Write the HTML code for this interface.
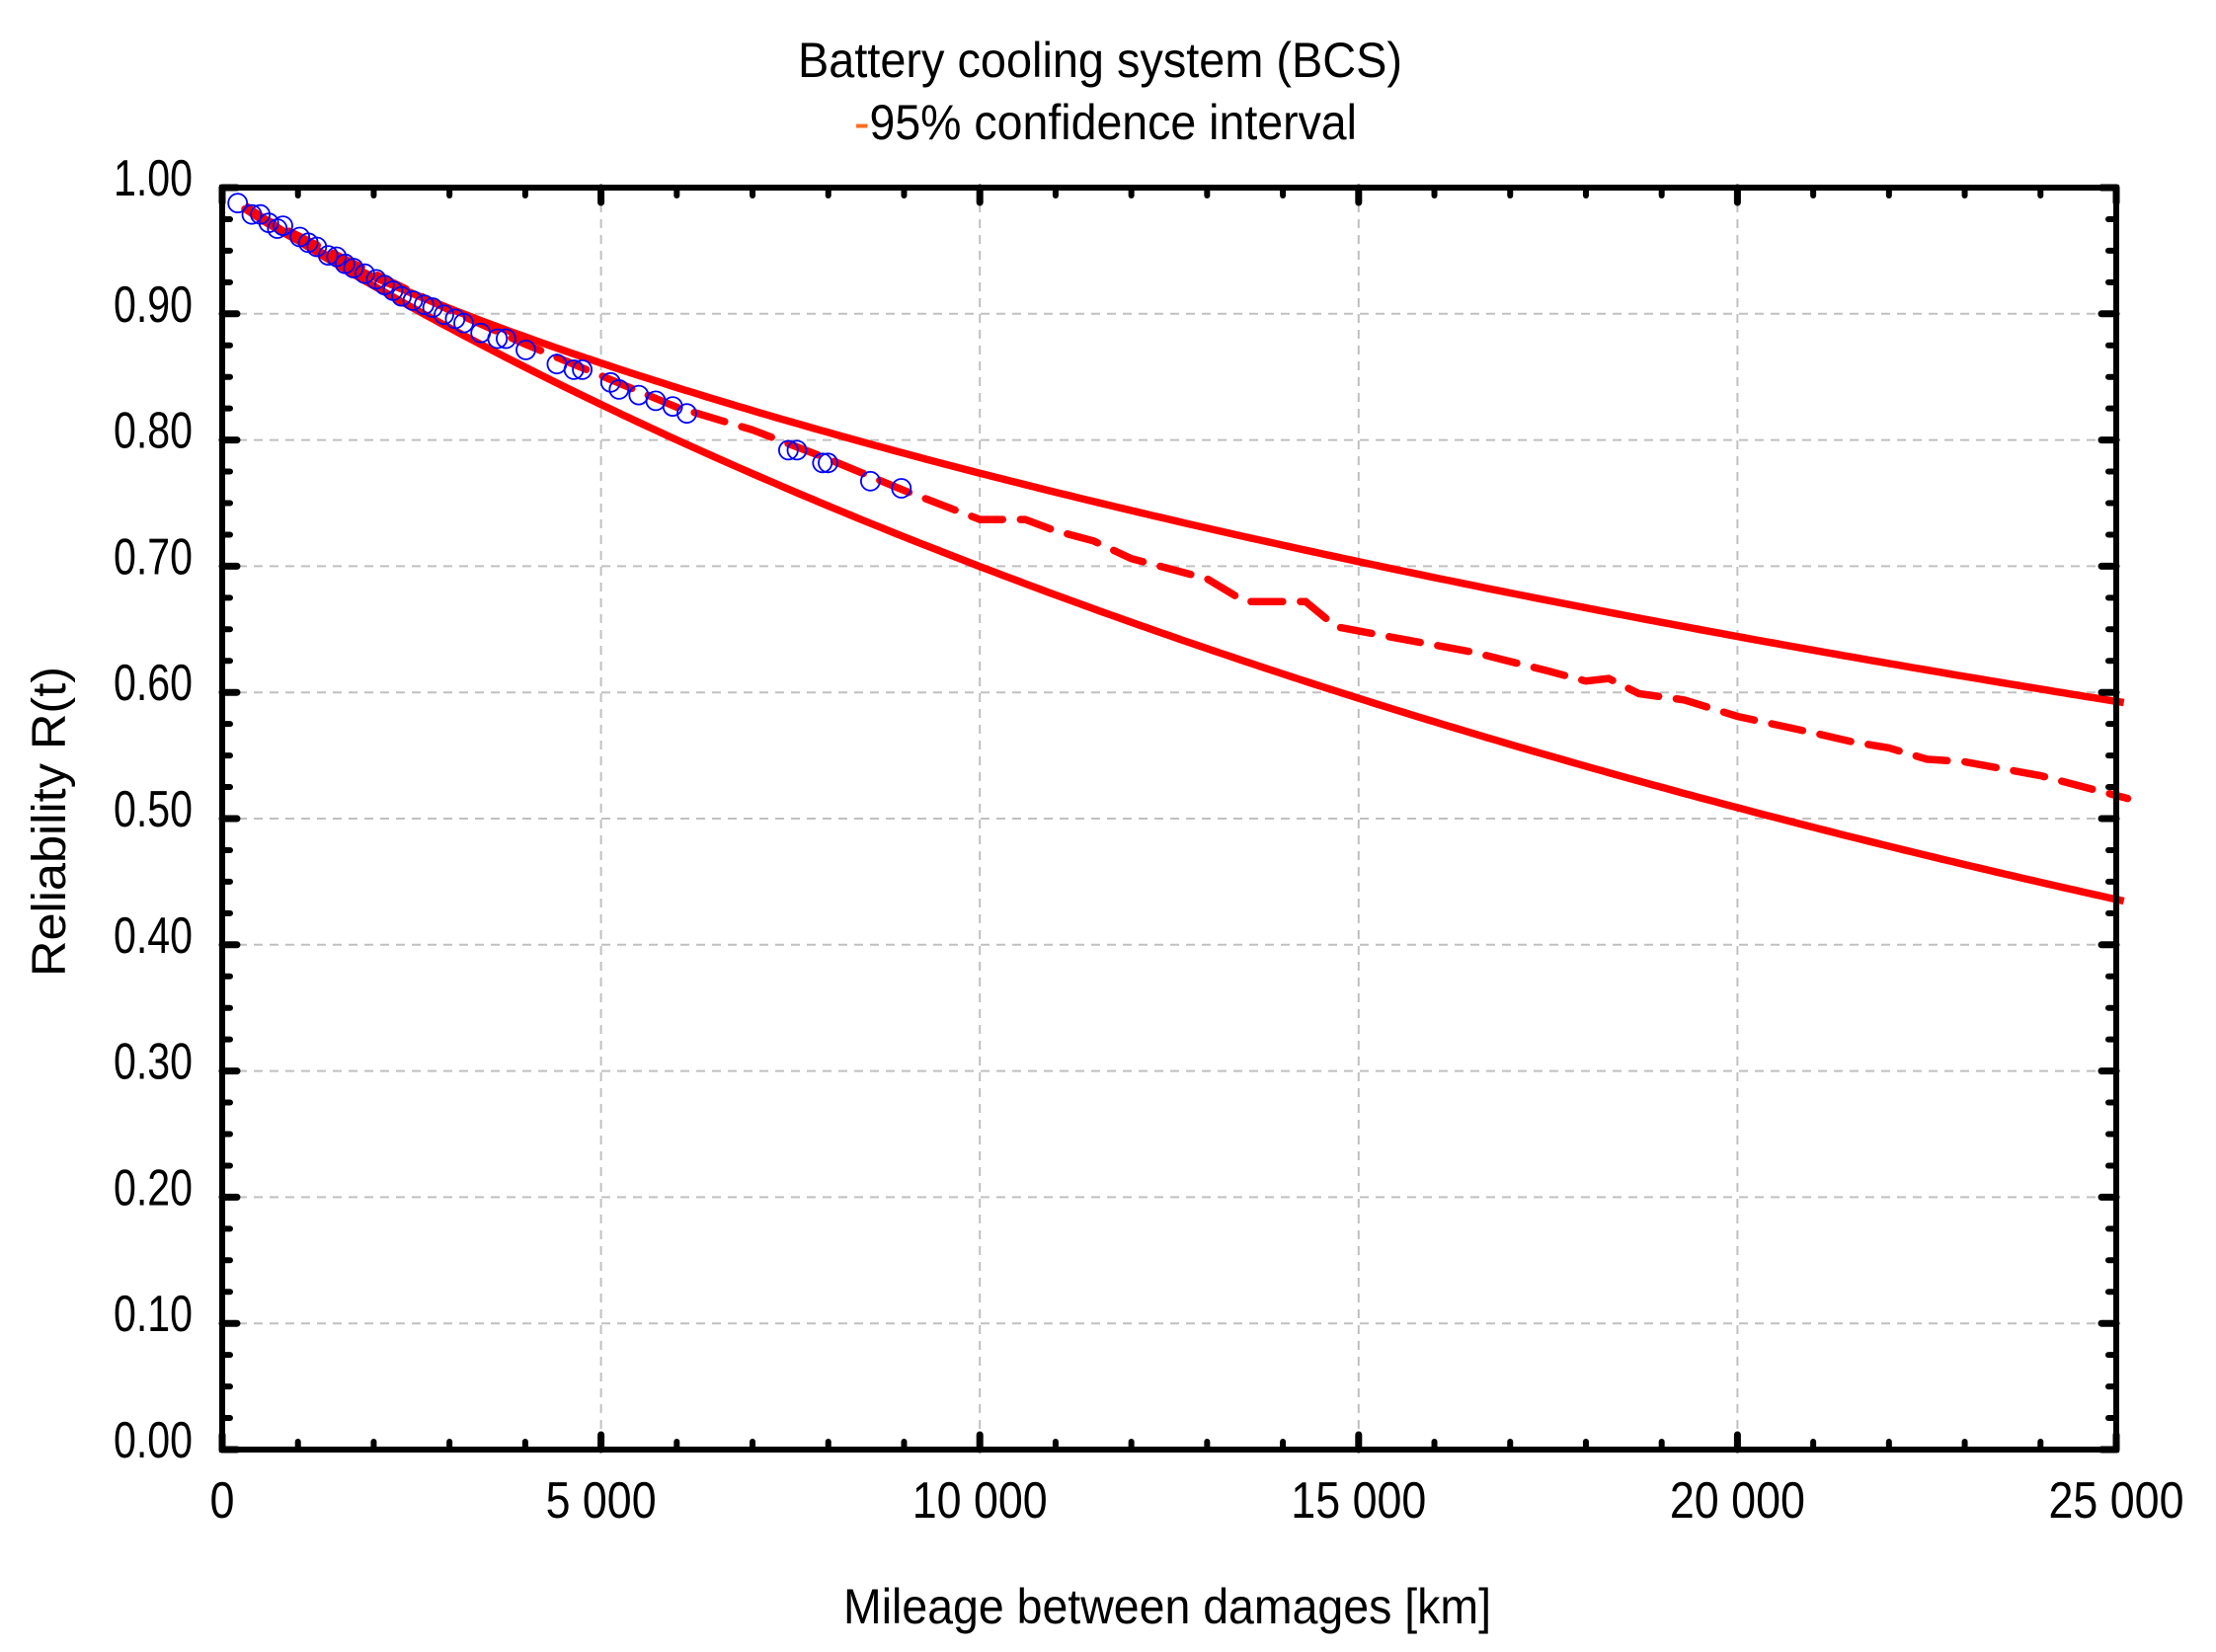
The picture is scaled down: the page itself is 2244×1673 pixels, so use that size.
<!DOCTYPE html>
<html><head><meta charset="utf-8"><style>
html,body{margin:0;padding:0;background:#fff;}
svg{display:block;}
text{font-family:"Liberation Sans",Arial,sans-serif;fill:#000;}
</style></head><body>
<svg id="s" width="2244" height="1673" viewBox="0 0 2244 1673" xmlns="http://www.w3.org/2000/svg">
<rect width="2244" height="1673" fill="#fff"/>
<g id="grid" stroke="#c0c0c0" stroke-width="2" stroke-dasharray="9,7" fill="none"></g>
<g id="curves" fill="none" stroke="#ff0000" stroke-width="7.5"></g>
<g id="pts" fill="none" stroke="#0000ff" stroke-width="1.8"></g>
<g id="axes" stroke="#000" fill="none"></g>
<g id="labels"></g>
<text x="1114" y="78" font-size="50" text-anchor="middle" textLength="612" lengthAdjust="spacingAndGlyphs">Battery cooling  system (BCS)</text>
<text x="865" y="141" font-size="50" textLength="509" lengthAdjust="spacingAndGlyphs"><tspan fill="#ff6a20">-</tspan>95% confidence interval</text>
<text transform="translate(66,832) rotate(-90)" font-size="48" text-anchor="middle" textLength="314" lengthAdjust="spacingAndGlyphs">Reliability R(t)</text>
<text x="1182" y="1644" font-size="50" text-anchor="middle" textLength="656" lengthAdjust="spacingAndGlyphs">Mileage between damages [km]</text>
</svg>
<script>
var NS="http://www.w3.org/2000/svg";
var L=225,R=2143,T=190,B=1468;
function X(k){return L+k*(R-L)/25000;}
function Y(r){return B-r*(B-T);}
function el(p,tag,a,txt){var e=document.createElementNS(NS,tag);for(var k in a)e.setAttribute(k,a[k]);if(txt!=null)e.textContent=txt;document.getElementById(p).appendChild(e);return e;}
for(var i=1;i<=9;i++){el("grid","line",{x1:L,x2:R,y1:Y(i/10),y2:Y(i/10)});}
for(var k=5000;k<25000;k+=5000){el("grid","line",{x1:X(k),x2:X(k),y1:T,y2:B});}
function wb(eta,beta,t){return Math.exp(-Math.pow(t/eta,beta));}
function curve(a,b){var d="";for(var t=300;t<=25150;t+=100){var r=wb(a,b,t);d+=(d?"L":"M")+X(t).toFixed(1)+","+Y(r).toFixed(1);}return d;}
var bu=0.777, eu=5000/Math.pow(0.1497,1/bu);
var bl=0.921, el_=10000/Math.pow(0.357,1/bl);
el("curves","path",{d:curve(eu,bu)});
el("curves","path",{d:curve(el_,bl)});
var md=[[300,.983],[1000,.962],[2000,.932],[3000,.903],[4000,.876],[5000,.851],[6000,.826],[7000,.808],[8000,.785],[9000,.76],[10000,.737],[10600,.737],[11000,.728],[11500,.72],[12000,.706],[13000,.69],[13500,.672],[14300,.672],[14700,.652],[15500,.643],[16500,.632],[17500,.617],[18000,.609],[18300,.611],[18700,.599],[19300,.594],[20000,.581],[21000,.568],[21500,.561],[22000,.556],[22500,.547],[23000,.545],[24000,.534],[25150,.516]];
var d="";md.forEach(function(p){d+=(d?"L":"M")+X(p[0]).toFixed(1)+","+Y(p[1]).toFixed(1);});
el("curves","path",{d:d,"stroke-dasharray":"32,18","stroke-linecap":"round"});
var P=[[168,142],[178,150],[184,150],[190,156],[196,160],[200,158],[212,166],[218,170],[224,173],[232,179],[238,180],[244,185],[250,188],[258,192],[266,196],[272,200],[278,204],[284,208],[292,211],[300,214],[306,216],[314,221],[322,224],[328,227],[340,234],[352,238],[358,238],[372,246],[394,256],[406,260],[412,260],[432,269],[438,274],[452,278],[464,282],[476,286],[486,291],[558,317],[564,317],[582,326],[586,326],[616,339],[638,344]];
P.forEach(function(p){el("pts","circle",{cx:(225+(p[0]-157)*1.430).toFixed(1),cy:(190+(p[1]-131)*1.4295).toFixed(1),r:9.5});});
el("axes","rect",{x:L,y:T,width:R-L,height:B-T,"stroke-width":6});
for(var i=0;i<=40;i++){var v=i/40,y=Y(v),maj=(i%4==0),len=maj?15:8;
 el("axes","line",{x1:L,x2:L+len,y1:y,y2:y,"stroke-width":maj?7:6,"stroke-linecap":"round"});
 el("axes","line",{x1:R,x2:R-len,y1:y,y2:y,"stroke-width":maj?7:6,"stroke-linecap":"round"});
 if(maj) el("labels","text",{x:195,y:y+8,"font-size":52,"text-anchor":"end",textLength:80,lengthAdjust:"spacingAndGlyphs"},(v).toFixed(2));
}
for(var k=0;k<=25000;k+=1000){var x=X(k),maj=(k%5000==0),len=maj?15:8;
 el("axes","line",{x1:x,x2:x,y1:B,y2:B-len,"stroke-width":maj?7:6,"stroke-linecap":"round"});
 el("axes","line",{x1:x,x2:x,y1:T,y2:T+len,"stroke-width":maj?7:6,"stroke-linecap":"round"});
}
var xl=[[0,"0",25],[5000,"5 000",112],[10000,"10 000",137],[15000,"15 000",137],[20000,"20 000",137],[25000,"25 000",137]];
xl.forEach(function(a){el("labels","text",{x:X(a[0]),y:1537,"font-size":52,"text-anchor":"middle",textLength:a[2],lengthAdjust:"spacingAndGlyphs"},a[1]);});
</script>
</body></html>
